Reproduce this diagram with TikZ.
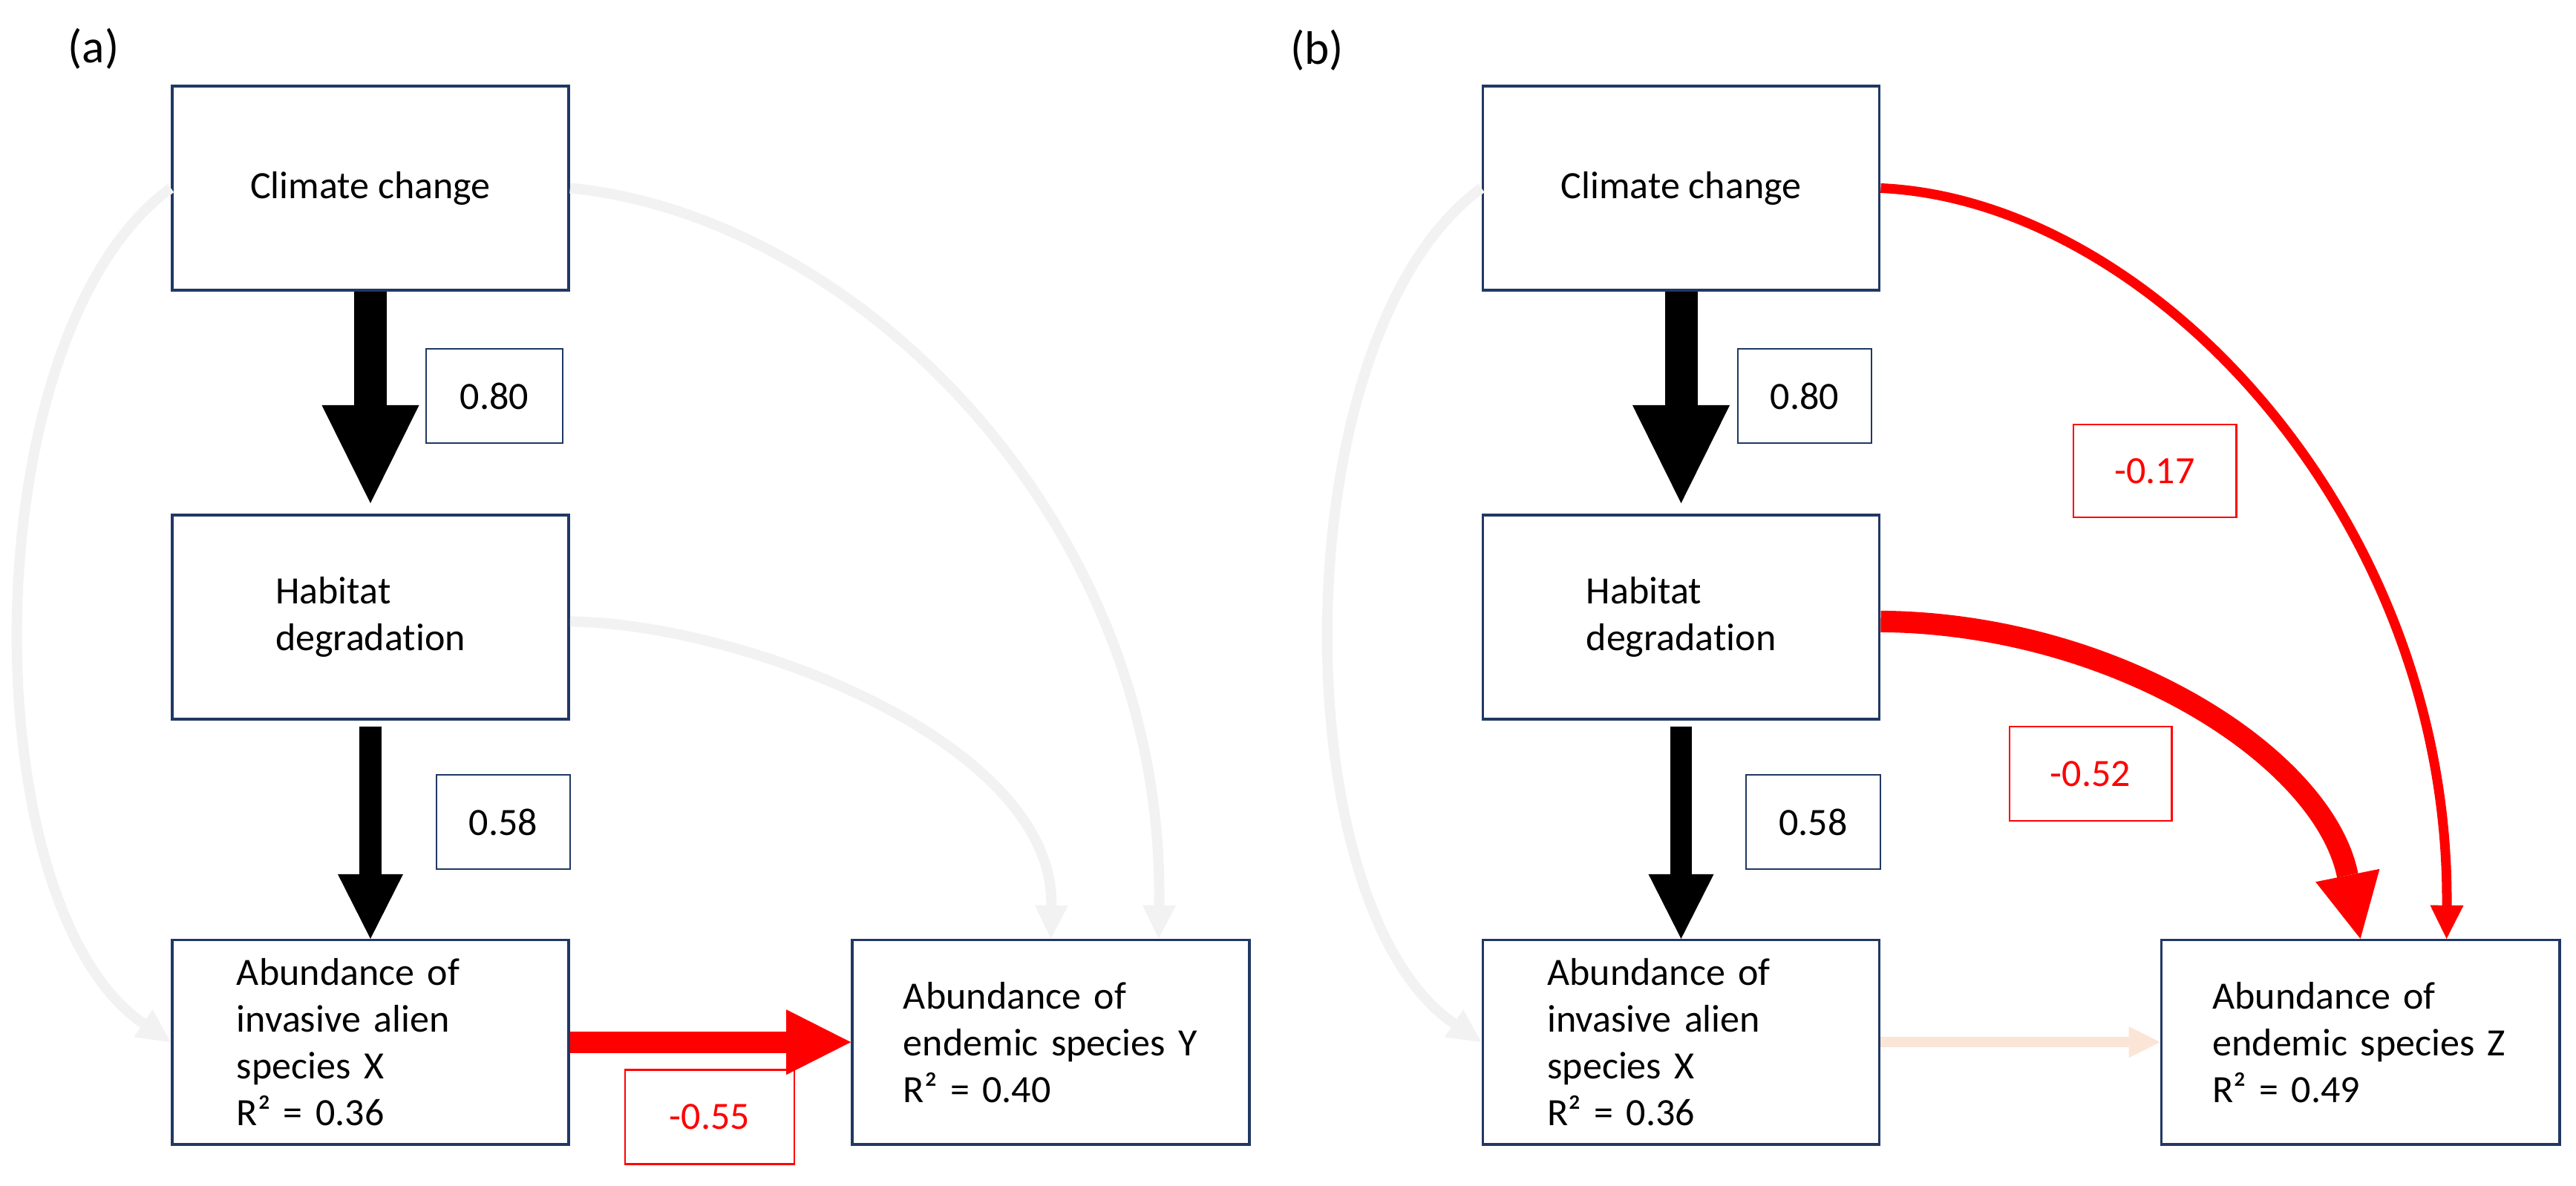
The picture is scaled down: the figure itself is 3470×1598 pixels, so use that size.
\documentclass[tikz,border=0pt]{standalone}
\usepackage{fontspec}
\setmainfont{Carlito}[Ligatures=NoCommon]
\usetikzlibrary{arrows.meta,positioning}

\definecolor{boxblue}{HTML}{203864}
\definecolor{lightgrey}{HTML}{F2F2F2}
\definecolor{peach}{HTML}{FBE5D6}

\tikzset{
  varbox/.style={draw=boxblue, line width=1pt, fill=white, minimum width=5.34cm, minimum height=2.75cm, font=\fontsize{14.8}{17.9}\selectfont},
  numbox/.style={draw=boxblue, line width=0.8pt, fill=white, minimum height=1.27cm, font=\fontsize{14.8}{17.9}\selectfont},
  redbox/.style={numbox, draw=red, text=red},
  bigarrow/.style={line width=0.44cm, -{Triangle[width=1.31cm,length=1.32cm,line width=0pt]}},
  midarrow/.style={line width=0.29cm, -{Triangle[width=0.88cm,length=0.87cm,line width=0pt]}},
  thinarrow/.style={line width=0.14cm, -{Triangle[width=0.45cm,length=0.45cm,line width=0pt]}},
}

\begin{document}
\begin{tikzpicture}[x=0.01cm, y=-0.01cm]
\useasboundingbox (0,0) rectangle (3470,1598);

% panel (a)
\node[font=\fontsize{18}{21}\selectfont] (labA) at (126,66) {(a)};
\node[varbox] (climA) at (499,253.5) {Climate change};
\node[varbox, align=left, below=2.99cm of climA] (habA) {Habitat\\degradation};
\node[varbox, align=left, text width=3.6cm, inner xsep=0.87cm, below=2.94cm of habA] (invA) {Abundance of\\invasive alien\\species X\\R² = 0.36};
\node[varbox, align=left, text width=3.97cm, inner xsep=0.69cm, right=3.78cm of invA] (yA) {Abundance of\\endemic species Y\\R² = 0.40};

\node[numbox, minimum width=1.84cm] (wA1) at (666,533.5) {0.80};
\node[numbox, minimum width=1.80cm] (wA2) at (678,1107.5) {0.58};
\node[redbox, minimum width=2.28cm] (wA3) at (956,1505) {-0.55};

\draw[bigarrow, shorten >=0.14cm] (climA) -- (habA);
\draw[midarrow, shorten <=0.08cm] (habA) -- (invA);
\draw[midarrow, red] (invA) -- (yA);
\draw[thinarrow, lightgrey] (climA.west) .. controls (-40,450) and (-40,1220) .. (invA.west);
\draw[thinarrow, lightgrey] (climA.east) .. controls (1150,290) and (1570,700) .. ([xshift=1.45cm]yA.north);
\draw[thinarrow, lightgrey] ([yshift=-0.06cm]habA.east) .. controls (1000,840) and (1420,1000) .. (yA.north);

% panel (b)
\node[font=\fontsize{18}{21}\selectfont] (labB) at (1774,68) {(b)};
\node[varbox] (climB) at (2264.5,253.5) {Climate change};
\node[varbox, align=left, below=2.99cm of climB] (habB) {Habitat\\degradation};
\node[varbox, align=left, text width=3.6cm, inner xsep=0.87cm, below=2.94cm of habB] (invB) {Abundance of\\invasive alien\\species X\\R² = 0.36};
\node[varbox, align=left, text width=3.98cm, inner xsep=0.69cm, right=3.76cm of invB] (zB) {Abundance of\\endemic species Z\\R² = 0.49};

\node[numbox, minimum width=1.80cm] (wB1) at (2431,533.5) {0.80};
\node[numbox, minimum width=1.81cm] (wB2) at (2442.5,1107.5) {0.58};
\node[redbox, minimum width=2.19cm, minimum height=1.25cm] (wB3) at (2902.5,634.5) {-0.17};
\node[redbox, minimum width=2.18cm] (wB4) at (2816,1042.5) {-0.52};

\draw[bigarrow, shorten >=0.14cm] (climB) -- (habB);
\draw[midarrow, shorten <=0.08cm] (habB) -- (invB);
\draw[line width=0.14cm, peach, -{Triangle[width=0.42cm,length=0.42cm,line width=0pt]}] (invB) -- (zB);
\draw[thinarrow, lightgrey] (climB.west) .. controls (1725,450) and (1725,1220) .. (invB.west);
\draw[line width=0.13cm, red, -{Triangle[width=0.45cm,length=0.45cm,line width=0pt]}] (climB.east) .. controls (2900,270) and (3300,700) .. ([xshift=1.16cm]zB.north);
\draw[midarrow, red] ([yshift=-0.06cm]habB.east) .. controls (2850,840) and (3130,1020) .. (zB.north);
\end{tikzpicture}
\end{document}
